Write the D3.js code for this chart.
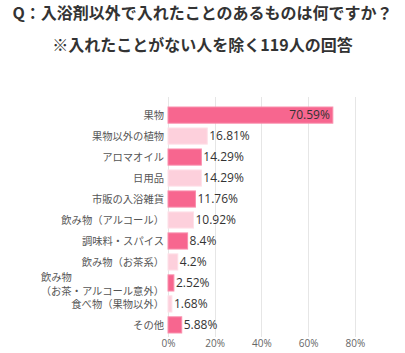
<!DOCTYPE html>
<html>
<head>
<meta charset="utf-8">
<script src="https://cdn.jsdelivr.net/npm/d3@7"></script>
<style>
	body { margin: 0; background: #fff; }
	svg { display: block; }
</style>
</head>
<body>
<div id="chart"></div>
<script>
// labels, values and tick labels
var categories = [
	["果物"],
	["果物以外の植物"],
	["アロマオイル"],
	["日用品"],
	["市販の入浴雑貨"],
	["飲み物（アルコール）"],
	["調味料・スパイス"],
	["飲み物（お茶系）"],
	["飲み物", "（お茶・アルコール意外）"],
	["食べ物（果物以外）"],
	["その他"]
];
var values = [70.59, 16.81, 14.29, 14.29, 11.76, 10.92, 8.4, 4.2, 2.52, 1.68, 5.88];
var tickValues = [0, 20, 40, 60, 80];
var titleLines = ["Q：入浴剤以外で入れたことのあるものは何ですか？", "※入れたことがない人を除く119人の回答"];

var width = 405, height = 353;
var dark = "#f7668f", light = "#fdd0dc";
var jp = "'Noto Sans CJK JP', 'Noto Sans', sans-serif";

var svg = d3.select("#chart").append("svg")
	.attr("width", width)
	.attr("height", height);

// title
svg.selectAll("text.title")
	.data(titleLines)
	.enter().append("text")
	.attr("class", "title")
	.attr("x", width / 2)
	.attr("y", function(d, i) { return i === 0 ? 19 : 51; })
	.attr("text-anchor", "middle")
	.style("font-family", jp)
	.style("font-size", "16px")
	.style("font-weight", "bold")
	.style("fill", "#333")
	.text(function(d) { return d; });

var x = d3.scaleLinear().domain([0, 100]).range([168, 401.5]);
var y = d3.scaleBand().domain(d3.range(values.length)).range([104.5, 335.5]).paddingInner(0.23).paddingOuter(0.12);

// gridlines
svg.selectAll("line.grid")
	.data(tickValues)
	.enter().append("line")
	.attr("class", "grid")
	.attr("x1", function(d) { return Math.round(x(d)) + 0.5; })
	.attr("x2", function(d) { return Math.round(x(d)) + 0.5; })
	.attr("y1", 97)
	.attr("y2", 337)
	.style("stroke", "#e6e6e6")
	.style("stroke-width", 1);

// x axis labels
var xAxis = d3.axisBottom(x)
	.tickValues(tickValues)
	.tickSize(0)
	.tickPadding(0)
	.tickFormat(function(d) { return d + "%"; });

var gx = svg.append("g")
	.attr("transform", "translate(0,337)")
	.call(xAxis);
gx.select(".domain").remove();
gx.selectAll("text")
	.attr("dy", "0.71em")
	.attr("y", 3)
	.style("font-family", "'Open Sans', sans-serif")
	.style("font-size", "10px")
	.style("fill", "#666");

// bars
svg.selectAll("rect.bar")
	.data(values)
	.enter().append("rect")
	.attr("class", "bar")
	.attr("x", x(0))
	.attr("y", function(d, i) { return y(i); })
	.attr("width", function(d) { return x(d) - x(0); })
	.attr("height", y.bandwidth())
	.style("fill", function(d, i) { return i % 2 === 0 ? dark : light; })
	.style("stroke", function(d, i) { return i % 2 === 0 ? "#f98fad" : "#fee0e8"; })
	.style("stroke-width", 1);

// value labels
svg.selectAll("text.val")
	.data(values)
	.enter().append("text")
	.attr("class", "val")
	.attr("x", function(d) { return d > 50 ? x(d) - 3 : x(d) + 2; })
	.attr("y", function(d, i) { return y(i) + y.bandwidth() / 2; })
	.attr("dy", "0.36em")
	.attr("text-anchor", function(d) { return d > 50 ? "end" : "start"; })
	.style("font-family", "'Open Sans', sans-serif")
	.style("font-size", "12px")
	.style("fill", "#333")
	.text(function(d) { return d + "%"; });

// category labels
var labels = svg.selectAll("g.cat")
	.data(categories)
	.enter().append("g")
	.attr("class", "cat")
	.attr("transform", function(d, i) { return "translate(164," + (y(i) + y.bandwidth() / 2) + ")"; });

labels.each(function(d) {
	var g = d3.select(this);
	if (d.length === 1) {
		g.append("text")
			.attr("text-anchor", "end")
			.attr("dy", "0.36em")
			.text(d[0]);
	} else {
		g.append("text")
			.attr("x", 41 - 164)
			.attr("y", -6)
			.attr("dy", "0.36em")
			.text(d[0]);
		g.append("text")
			.attr("text-anchor", "end")
			.attr("y", 8.5)
			.attr("dy", "0.36em")
			.text(d[1]);
	}
});
labels.selectAll("text")
	.style("font-family", jp)
	.style("font-size", "10.3px")
	.style("fill", "#555");
</script>
</body>
</html>
